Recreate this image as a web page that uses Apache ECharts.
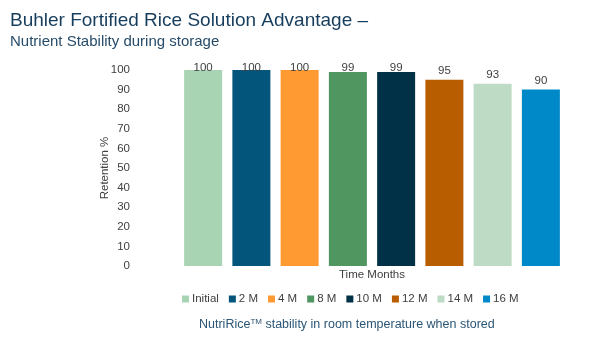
<!DOCTYPE html>
<html>
<head>
<meta charset="utf-8">
<script src="https://cdn.jsdelivr.net/npm/echarts@6/dist/echarts.min.js"></script>
<style>
  html, body { margin: 0; padding: 0; background: #fff; }
  #chart { width: 602px; height: 354px; }
</style>
</head>
<body>
<div id="chart"></div>
<script>
// storage time points and retention values
var categories = ['Initial', '2 M', '4 M', '8 M', '10 M', '12 M', '14 M', '16 M'];
var retention = [100, 100, 100, 99, 99, 95, 93, 90];
var colors = ['#a8d4b4', '#03557b', '#ff9a33', '#4f9660', '#013147', '#b85d00', '#bedcc5', '#0089c8'];
var yTicks = [0, 10, 20, 30, 40, 50, 60, 70, 80, 90, 100];

var chart = echarts.init(document.getElementById('chart'));

// one series per time point so each gets a legend entry
var series = categories.map(function (name, i) {
  var data = categories.map(function (c, j) { return j === i ? retention[i] : '-'; });
  return {
    name: name,
    type: 'bar',
    stack: 'all',
    barWidth: 38,
    data: data,
    itemStyle: { color: colors[i] },
    label: {
      show: true,
      position: 'top',
      distance: 3,
      color: '#404040',
      fontSize: 11.5,
      fontFamily: 'Liberation Sans'
    },
    // labels near the top get pushed down onto the bar, like the original
    labelLayout: function (p) {
      var dy = 62 - p.labelRect.y;
      return { dy: dy > 0 ? dy : 0 };
    }
  };
});

var option = {
  animation: false,
  textStyle: { fontFamily: 'Liberation Sans' },
  title: [
    {
      text: 'Buhler Fortified Rice Solution Advantage \u2013',
      left: 5, top: 6,
      textStyle: { fontSize: 19, fontWeight: 'normal', color: '#173d5c' }
    },
    {
      text: 'Nutrient Stability during storage',
      left: 5, top: 29,
      textStyle: { fontSize: 15, fontWeight: 'normal', color: '#274c69' }
    }
  ],
  legend: {
    data: categories,
    top: 288,
    left: 177,
    itemWidth: 7,
    itemHeight: 7,
    itemGap: 10,
    icon: 'rect',
    textStyle: { fontSize: 11.5, color: '#404040', padding: [0, 0, 0, -2] }
  },
  grid: { left: 179, right: 37, top: 70, bottom: 88 },
  xAxis: {
    type: 'category',
    data: categories,
    name: 'Time Months',
    nameLocation: 'middle',
    nameGap: 3,
    nameTextStyle: { fontSize: 11.5, color: '#404040' },
    axisLine: { show: false },
    axisTick: { show: false },
    axisLabel: { show: false }
  },
  yAxis: {
    type: 'value',
    min: yTicks[0],
    max: yTicks[yTicks.length - 1],
    interval: 10,
    name: 'Retention %',
    nameLocation: 'middle',
    nameRotate: 90,
    nameGap: 68,
    nameMoveOverlap: false,
    nameTextStyle: { fontSize: 11.5, color: '#404040' },
    axisLabel: { fontSize: 11.5, color: '#404040', margin: 49 },
    axisLine: { show: false },
    axisTick: { show: false },
    splitLine: { show: false }
  },
  graphic: [
    {
      type: 'text',
      left: 199,
      top: 318,
      style: {
        text: '{a|NutriRice}{s|TM}{a| stability in room temperature when stored}',
        rich: {
          a: { fontSize: 12.5, fill: '#2a5575', fontFamily: 'Liberation Sans' },
          s: { fontSize: 8, fill: '#2a5575', fontFamily: 'Liberation Sans', verticalAlign: 'top', padding: [0, 0, 6, 0] }
        }
      }
    }
  ],
  series: series
};

chart.setOption(option);
</script>
</body>
</html>
